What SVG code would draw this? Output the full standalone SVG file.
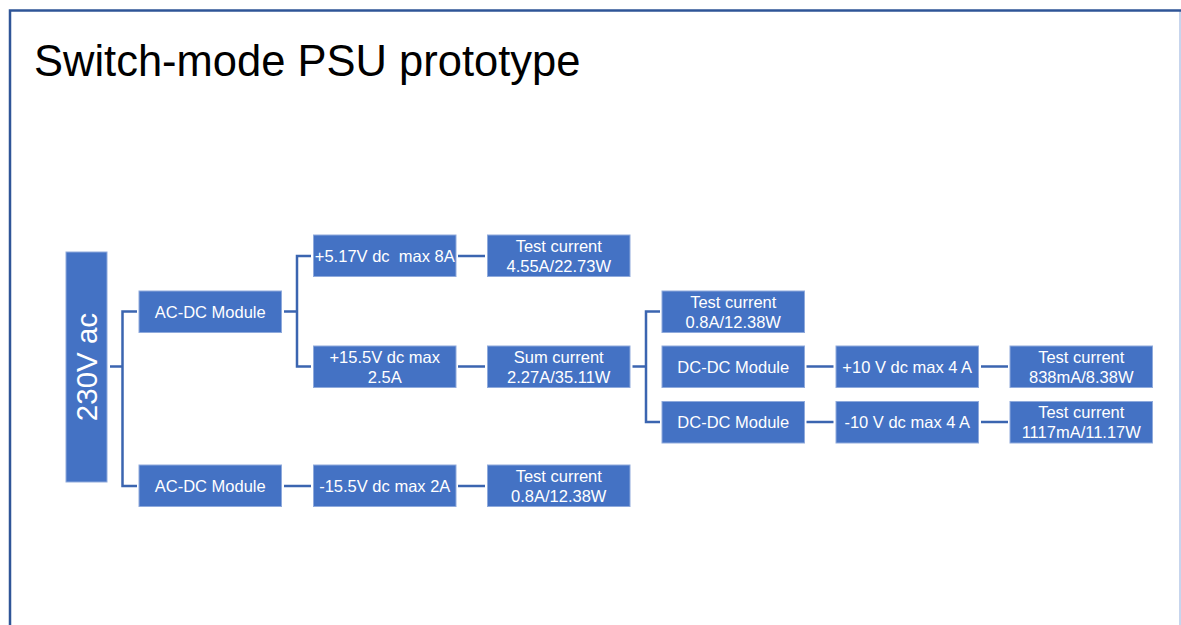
<svg xmlns="http://www.w3.org/2000/svg" width="1181" height="625" viewBox="0 0 1181 625">
  <style>
    .box { fill: #4472C4; stroke: #8FAADC; stroke-width: 1; }
    .lbl { font-family: "Liberation Sans", Arial, sans-serif; font-size: 16.5px; fill: #FFFFFF; text-anchor: middle; }
    .wire { fill: none; stroke: #3B65B0; stroke-width: 2.5; }
    .title { font-family: "Liberation Sans", Arial, sans-serif; font-size: 43.5px; fill: #000000; }
  </style>

  <!-- page background and slide frame -->
  <rect x="0" y="0" width="1181" height="625" fill="#FFFFFF"/>
  <line x1="1180" y1="10" x2="1180" y2="625" stroke="#B4C7E7" stroke-width="1.5"/>
  <path d="M10,625 V10.5 H1181" fill="none" stroke="#2F5597" stroke-width="2.5"/>

  <text class="title" x="34" y="76">Switch-mode PSU prototype</text>

  <!-- connectors -->
  <g id="connectors">
    <path class="wire" d="M110,366.5 H122.5"/>
    <path class="wire" d="M137,311.5 H122.5 V486 H137"/>
    <path class="wire" d="M284,311.5 H297"/>
    <path class="wire" d="M311,256 H297 V366.5 H311"/>
    <path class="wire" d="M458,256 H485"/>
    <path class="wire" d="M458,366.5 H485"/>
    <path class="wire" d="M284,486 H311"/>
    <path class="wire" d="M458,486 H485"/>
    <path class="wire" d="M632.5,366.5 H646"/>
    <path class="wire" d="M660,311.5 H646 V422 H660"/>
    <path class="wire" d="M806.5,366.5 H833.5"/>
    <path class="wire" d="M806.5,422 H833.5"/>
    <path class="wire" d="M981,366.5 H1008"/>
    <path class="wire" d="M981,422 H1008"/>
  </g>

  <!-- mains input -->
  <g id="ac-input">
    <rect class="box" x="66" y="252" width="41" height="230"/>
    <text class="lbl" style="font-size:29.5px" transform="translate(96.5,367) rotate(-90)">230V ac</text>
  </g>

  <!-- first conversion stage -->
  <g id="acdc-1">
    <rect class="box" x="139" y="291" width="142.5" height="41.5"/>
    <text class="lbl" x="210.25" y="317.7">AC-DC Module</text>
  </g>
  <g id="acdc-2">
    <rect class="box" x="139" y="465" width="142.5" height="41.5"/>
    <text class="lbl" x="210.25" y="491.7">AC-DC Module</text>
  </g>

  <!-- AC-DC outputs -->
  <g id="out-5v17">
    <rect class="box" x="313.5" y="235" width="142.5" height="41.5"/>
    <text class="lbl" x="384.75" y="261.7" xml:space="preserve">+5.17V dc  max 8A</text>
  </g>
  <g id="out-15v5">
    <rect class="box" x="313.5" y="346" width="142.5" height="41.5"/>
    <text class="lbl" x="384.75" y="362.7">+15.5V dc max</text>
    <text class="lbl" x="384.75" y="382.7">2.5A</text>
  </g>
  <g id="out-neg15v5">
    <rect class="box" x="313.5" y="465" width="142.5" height="41.5"/>
    <text class="lbl" x="384.75" y="491.7">-15.5V dc max 2A</text>
  </g>

  <!-- measured loads -->
  <g id="test-5v17">
    <rect class="box" x="487.5" y="235" width="142.5" height="41.5"/>
    <text class="lbl" x="558.75" y="251.7">Test current</text>
    <text class="lbl" x="558.75" y="271.7">4.55A/22.73W</text>
  </g>
  <g id="sum-15v5">
    <rect class="box" x="487.5" y="346" width="142.5" height="41.5"/>
    <text class="lbl" x="558.75" y="362.7">Sum current</text>
    <text class="lbl" x="558.75" y="382.7">2.27A/35.11W</text>
  </g>
  <g id="test-neg15v5">
    <rect class="box" x="487.5" y="465" width="142.5" height="41.5"/>
    <text class="lbl" x="558.75" y="481.7">Test current</text>
    <text class="lbl" x="558.75" y="501.7">0.8A/12.38W</text>
  </g>

  <!-- 15.5V rail branches -->
  <g id="test-15v5">
    <rect class="box" x="662" y="291" width="142.5" height="41.5"/>
    <text class="lbl" x="733.25" y="307.7">Test current</text>
    <text class="lbl" x="733.25" y="327.7">0.8A/12.38W</text>
  </g>
  <g id="dcdc-1">
    <rect class="box" x="662" y="346" width="142.5" height="41.5"/>
    <text class="lbl" x="733.25" y="372.7">DC-DC Module</text>
  </g>
  <g id="dcdc-2">
    <rect class="box" x="662" y="401.5" width="142.5" height="41.5"/>
    <text class="lbl" x="733.25" y="428.2">DC-DC Module</text>
  </g>

  <!-- DC-DC outputs -->
  <g id="out-10v">
    <rect class="box" x="836" y="346" width="142.5" height="41.5"/>
    <text class="lbl" x="907.25" y="372.7">+10 V dc max 4 A</text>
  </g>
  <g id="out-neg10v">
    <rect class="box" x="836" y="401.5" width="142.5" height="41.5"/>
    <text class="lbl" x="907.25" y="428.2">-10 V dc max 4 A</text>
  </g>
  <g id="test-10v">
    <rect class="box" x="1010" y="346" width="142.5" height="41.5"/>
    <text class="lbl" x="1081.25" y="362.7">Test current</text>
    <text class="lbl" x="1081.25" y="382.7">838mA/8.38W</text>
  </g>
  <g id="test-neg10v">
    <rect class="box" x="1010" y="401.5" width="142.5" height="41.5"/>
    <text class="lbl" x="1081.25" y="418.2">Test current</text>
    <text class="lbl" x="1081.25" y="438.2">1117mA/11.17W</text>
  </g>
</svg>
